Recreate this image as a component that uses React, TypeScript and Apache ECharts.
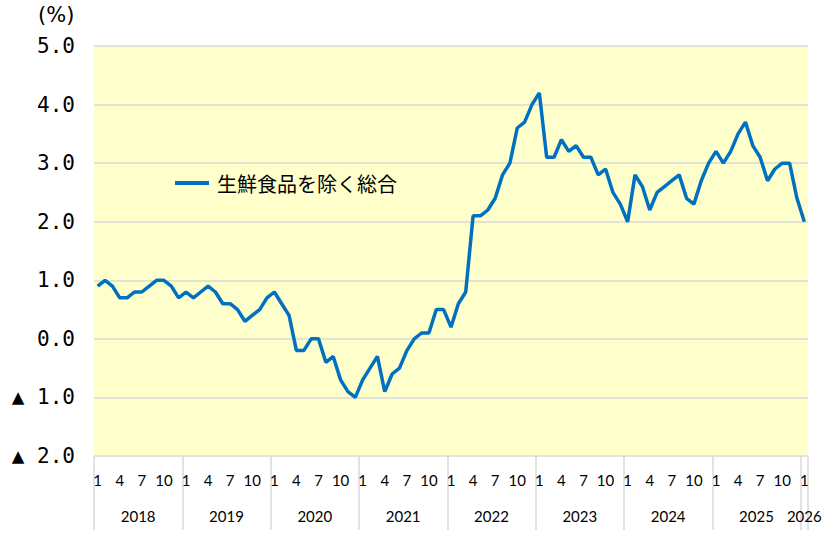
import React, { useEffect, useRef } from "react";
import * as echarts from "echarts";

const years = ["2018", "2019", "2020", "2021", "2022", "2023", "2024", "2025", "2026"];
const monthTicks = [1, 4, 7, 10];
const seriesName = "生鮮食品を除く総合";
const values2018 = [0.9, 1.0, 0.9, 0.7, 0.7, 0.8, 0.8, 0.9, 1.0, 1.0, 0.9, 0.7];
const values2019 = [0.8, 0.7, 0.8, 0.9, 0.8, 0.6, 0.6, 0.5, 0.3, 0.4, 0.5, 0.7];
const values2020 = [0.8, 0.6, 0.4, -0.2, -0.2, 0.0, 0.0, -0.4, -0.3, -0.7, -0.9, -1.0];
const values2021 = [-0.7, -0.5, -0.3, -0.9, -0.6, -0.5, -0.2, 0.0, 0.1, 0.1, 0.5, 0.5];
const values2022 = [0.2, 0.6, 0.8, 2.1, 2.1, 2.2, 2.4, 2.8, 3.0, 3.6, 3.7, 4.0];
const values2023 = [4.2, 3.1, 3.1, 3.4, 3.2, 3.3, 3.1, 3.1, 2.8, 2.9, 2.5, 2.3];
const values2024 = [2.0, 2.8, 2.6, 2.2, 2.5, 2.6, 2.7, 2.8, 2.4, 2.3, 2.7, 3.0];
const values2025 = [3.2, 3.0, 3.2, 3.5, 3.7, 3.3, 3.1, 2.7, 2.9, 3.0, 3.0, 2.4];
const values2026 = [2.0];

const allValues = [
  ...values2018, ...values2019, ...values2020, ...values2021, ...values2022,
  ...values2023, ...values2024, ...values2025, ...values2026,
];
const categories = allValues.map((_, i) => `${years[Math.floor(i / 12)]}-${(i % 12) + 1}`);

export default function App() {
  const ref = useRef<HTMLDivElement>(null);
  useEffect(() => {
    document.body.style.margin = "0";
    const chart = echarts.init(ref.current!, null, { renderer: "svg" });
    const n = allValues.length;
    const yearTickValues = years.map((_, i) => i * 12).concat([n]);
    const yearLabelValues = years.map((_, i) => (i < years.length - 1 ? i * 12 + 6 : i * 12 + 0.5));
    chart.setOption({
      animation: false,
      grid: {
        left: 94,
        right: 30,
        top: 46,
        bottom: 82,
        show: true,
        backgroundColor: "#FFFFCC",
        borderWidth: 0,
      },
      graphic: [
        {
          type: "text",
          left: 38,
          top: 4,
          style: { text: "(%)", fontSize: 21, fill: "#000", fontFamily: "DejaVu Sans" },
        },
      ],
      legend: {
        left: 170,
        top: 168,
        icon: "rect",
        itemWidth: 34,
        itemHeight: 4,
        textStyle: { fontSize: 20, color: "#000", fontFamily: "Noto Sans CJK JP", padding: [0, 0, 0, 3] },
        data: [seriesName],
      },
      xAxis: [
        {
          type: "category",
          data: categories,
          boundaryGap: true,
          axisLine: { show: false },
          axisTick: { show: false },
          splitLine: { show: false },
          axisLabel: {
            interval: 0,
            margin: 16,
            fontSize: 15,
            color: "#000",
            fontFamily: "Lato",
            formatter: (_v: string, idx: number) => {
              const m = (idx % 12) + 1;
              return monthTicks.includes(m) ? String(m) : "";
            },
          },
        },
        {
          type: "value",
          min: 0,
          max: n,
          position: "bottom",
          axisLine: { show: false },
          splitLine: { show: false },
          axisTick: {
            show: true,
            customValues: yearTickValues,
            length: 74,
            lineStyle: { color: "#d9d9d9", width: 1.5 },
          },
          axisLabel: {
            show: true,
            customValues: yearLabelValues,
            margin: 52,
            fontSize: 15,
            color: "#000",
            fontFamily: "Lato",
            formatter: (v: number) => years[Math.floor(v / 12)],
          },
        },
      ],
      yAxis: {
        type: "value",
        min: -2,
        max: 5,
        interval: 1,
        axisLine: { show: false },
        axisTick: { show: false },
        splitLine: { lineStyle: { color: "#d9d9d9", width: 1.5 } },
        axisLabel: {
          margin: 19,
          fontSize: 21,
          color: "#000",
          fontFamily: "DejaVu Sans Mono",
          formatter: (v: number) => (v < 0 ? "▲ " + Math.abs(v).toFixed(1) : v.toFixed(1)),
        },
      },
      series: [
        {
          name: seriesName,
          type: "line",
          xAxisIndex: 0,
          data: allValues,
          symbol: "none",
          itemStyle: { color: "#0070C0" },
          lineStyle: { color: "#0070C0", width: 3.5 },
        },
      ],
    });
    return () => chart.dispose();
  }, []);
  return <div ref={ref} style={{ width: 838, height: 538 }} />;
}
